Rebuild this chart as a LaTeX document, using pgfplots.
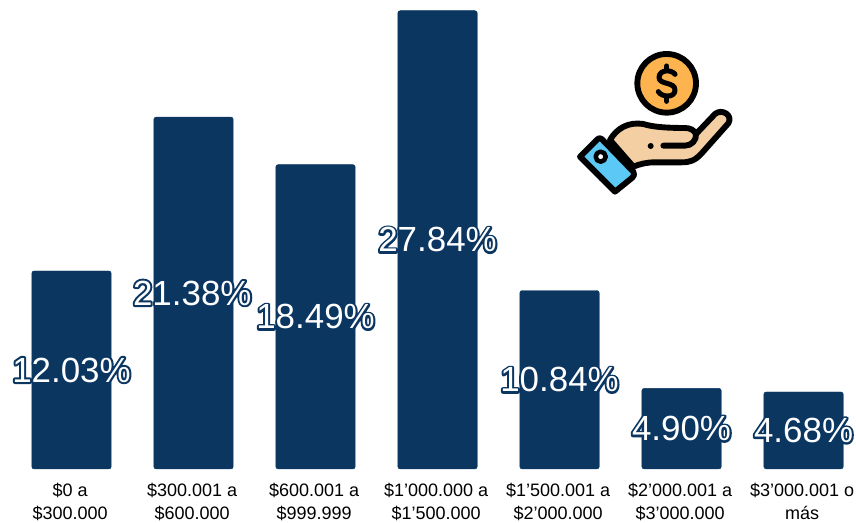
\documentclass[border=0pt]{standalone}
\usepackage{pgfplots}
\pgfplotsset{compat=1.18}
\usepackage{fontspec}
\setmainfont{Liberation Sans}
\definecolor{barblue}{HTML}{0A3660}
\definecolor{coin}{HTML}{FDB44F}
\definecolor{skin}{HTML}{F3CFA3}
\definecolor{cuff}{HTML}{5CC8F5}
\newcommand{\strokedtext}[1]{\rlap{\special{pdf:code q 2 Tr 3 w 1 j 0.04 0.21 0.38 RG 0.04 0.21 0.38 rg}#1\special{pdf:code Q}}\textcolor{white}{#1}}
\begin{document}
\begin{tikzpicture}
\begin{axis}[
  at={(0,0)}, anchor=south west,
  scale only axis, width=642pt, height=351.75pt,
  xmin=-0.586, xmax=6.430, ymin=0, ymax=28.49,
  axis line style={draw=none},
  ytick=\empty,
  xtick={0,...,6},
  xticklabels={{\$0 a\\\$300.000},{\$300.001 a\\\$600.000},{\$600.001 a\\\$999.999},{\$1’000.000 a\\\$1’500.000},{\$1’500.001 a\\\$2’000.000},{\$2’000.001 a\\\$3’000.000},{\$3’000.001 o\\más}},
  x tick label style={align=center,font=\fontsize{13.5pt}{17.6pt}\selectfont,yshift=-6.8pt,xshift=-1pt},
  major tick length=0pt,
  clip=false,
]
\addplot[ybar, bar width=59.6pt, fill=barblue, draw=barblue, line width=0.3pt, rounded corners=1.8pt]
  coordinates {(0,12.03) (1,21.38) (2,18.49) (3,27.84) (4,10.84) (5,4.90) (6,4.68)};
\addplot[only marks, mark=none, point meta=explicit symbolic,
  nodes near coords={\strokedtext{\pgfplotspointmeta}},
  every node near coord/.append style={anchor=center,inner sep=0pt,font=\fontsize{26.2pt}{30pt}\selectfont}]
  coordinates {(0,6.015)[12.03\%] (0.99,10.69)[21.38\%] (2,9.245)[18.49\%] (3,13.92)[27.84\%] (4,5.42)[10.84\%] (5,2.45)[4.90\%] (6,2.34)[4.68\%]};
\end{axis}
% icon, in the units of a 3x crop
\begin{scope}[shift={(420pt,321.75pt)},x=0.25pt,y=-0.25pt,line width=4.4pt,line cap=round,line join=round,draw=black]
  \draw[fill=coin] (320,130) circle (88);
  \draw[line width=3.8pt] (345,103) .. controls (335,88) and (298,88) .. (297,112) .. controls (297,135) and (345,125) .. (345,150) .. controls (345,175) and (305,172) .. (295,155);
  \draw[line width=3.8pt] (320,78) -- (320,88) (320,172) -- (320,184);
  \draw[fill=skin] (150,300) .. controls (170,265) and (205,245) .. (250,252) .. controls (280,262) and (330,264) .. (375,264) .. controls (390,264) and (402,270) .. (408,282) -- (465,222) .. controls (485,205) and (520,225) .. (505,250) -- (425,340) .. controls (405,362) and (390,367) .. (365,367) -- (285,367) .. controls (260,367) and (240,372) .. (220,380) -- cycle;
  \draw (310,317) -- (375,317) .. controls (395,317) and (410,300) .. (408,282);
  \draw[fill=cuff] (125,297) -- (220,395) .. controls (225,402) and (222,408) .. (217,413) -- (165,455) -- (60,350) -- (112,298) .. controls (116,294) and (120,293) .. (125,297) -- cycle;
  \fill[white] (122,350) circle (12);
  \draw[line width=3.4pt] (122,350) circle (15);
  \fill (272,318) circle (9);
  \fill (125,415) circle (9);
\end{scope}
\pgfresetboundingbox
\path[use as bounding box] (0,-40.5pt) rectangle (642pt,351.75pt);
\end{tikzpicture}
\end{document}
